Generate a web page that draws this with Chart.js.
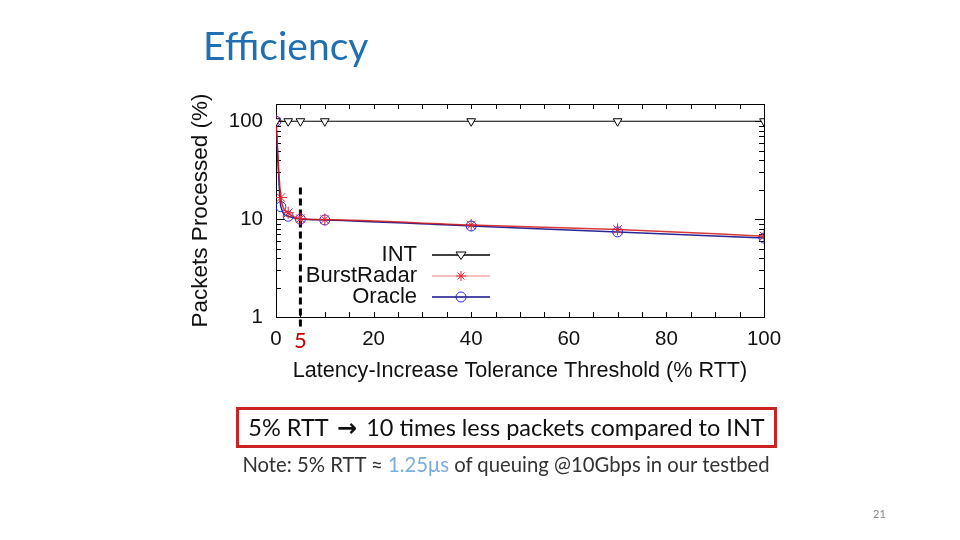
<!DOCTYPE html>
<html lang="en">
<head>
  <meta charset="UTF-8" />
  <title>Efficiency</title>
  <script src="https://cdn.jsdelivr.net/npm/chart.js"></script>
  <style>
    body { margin: 0; background: #fff; }
    #slide { position: relative; width: 960px; height: 540px; overflow: hidden; }
    #chart { position: absolute; left: 0; top: 0; }
    .txt { position: absolute; font-family: Lato, "Open Sans", sans-serif; white-space: nowrap; }
    #title { left: 203px; top: 22px; font-size: 39px; color: #1f6fb2; }
    #box { left: 236px; top: 407px; width: 535px; height: 35px; border: 3px solid #cc2222;
           font-size: 23.5px; color: #111; text-align: center; line-height: 35px; }
    #box b { font-family: "DejaVu Sans", sans-serif; font-size: 24px; margin: 0 3px; }
    #note { left: 0; width: 1012px; top: 452px; text-align: center; font-size: 20.3px; color: #333; }
    #note span { color: #7aaee0; }
    #page { left: 873px; top: 507px; font-size: 11px; color: #888; }
  </style>
</head>
<body>
<div id="slide">
  <canvas id="chart" width="960" height="540"></canvas>
  <div class="txt" id="title">Efficiency</div>
  <div class="txt" id="box">5% RTT <b>&rarr;</b> 10 times less packets compared to INT</div>
  <div class="txt" id="note">Note: 5% RTT &asymp; <span>1.25&mu;s</span> of queuing @10Gbps in our testbed</div>
  <div class="txt" id="page">21</div>
</div>
<script>
  // values (x = % RTT, y = % packets processed)
  const thresholds = [0, 1, 2.5, 5, 10, 40, 70, 100];
  const intValues = [100, null, 100, 100, 100, 100, 100, 100];
  const burstRadarValues = [100, 16.6, 11.6, 10.1, 9.9, 8.7, 7.85, 6.7];
  const oracleValues = [100, 13.4, 10.7, 10.0, 9.8, 8.5, 7.4, 6.4];

  const xTicks = [0, 20, 40, 60, 80, 100];
  const yTicks = [1, 10, 100];
  const markedThreshold = 5;

  const tickFont = { family: '"Liberation Sans", Arial, sans-serif', size: 20.5 };
  const titleFont = { family: '"Liberation Sans", Arial, sans-serif', size: 21.6 };

  const toPoints = vals => thresholds.map((t, i) => ({ x: t, y: vals[i] }));

  function drawMarker(ctx, style, color, x, y, r) {
    ctx.save();
    ctx.strokeStyle = color;
    ctx.lineWidth = 1;
    ctx.beginPath();
    if (style === 'triangle') {
      ctx.moveTo(x - r, y - r * 0.6);
      ctx.lineTo(x + r, y - r * 0.6);
      ctx.lineTo(x, y + r * 0.9);
      ctx.closePath();
      ctx.fillStyle = '#fff';
      ctx.fill();
    } else if (style === 'star') {
      ctx.moveTo(x - r, y); ctx.lineTo(x + r, y);
      ctx.moveTo(x, y - r); ctx.lineTo(x, y + r);
      const d = r * 0.7;
      ctx.moveTo(x - d, y - d); ctx.lineTo(x + d, y + d);
      ctx.moveTo(x - d, y + d); ctx.lineTo(x + d, y - d);
    } else {
      ctx.arc(x, y, r, 0, Math.PI * 2);
    }
    ctx.stroke();
    ctx.restore();
  }

  const frameAndNotes = {
    id: 'frameAndNotes',
    beforeDatasetsDraw(chart) {
      const { ctx, chartArea: a, scales: { x, y } } = chart;
      ctx.save();
      ctx.strokeStyle = '#000';
      ctx.lineWidth = 1;
      ctx.strokeRect(a.left + 0.5, a.top + 0.5, a.right - a.left, a.bottom - a.top);
      ctx.beginPath();
      for (let v = 5; v < 100; v += 5) {
        const px = Math.round(x.getPixelForValue(v)) + 0.5;
        ctx.moveTo(px, a.bottom); ctx.lineTo(px, a.bottom - 5);
        ctx.moveTo(px, a.top); ctx.lineTo(px, a.top + 5);
      }
      for (let dec = 1; dec <= 100; dec *= 10) {
        for (let m = 1; m <= 9; m++) {
          const v = dec * m;
          if (v <= 1 || v >= 150) continue;
          const py = Math.round(y.getPixelForValue(v)) + 0.5;
          const len = m === 1 ? 9 : 5;
          ctx.moveTo(a.left, py); ctx.lineTo(a.left + len, py);
          ctx.moveTo(a.right, py); ctx.lineTo(a.right - len, py);
        }
      }
      ctx.stroke();

      // dashed marker at 5% RTT
      const mx = x.getPixelForValue(markedThreshold);
      ctx.setLineDash([7, 4]);
      ctx.lineWidth = 3;
      ctx.beginPath();
      ctx.moveTo(mx, y.getPixelForValue(21));
      ctx.lineTo(mx, a.bottom + 12);
      ctx.stroke();
      ctx.restore();
    },
    afterDraw(chart) {
      const { ctx, chartArea: a, scales: { x } } = chart;
      ctx.save();
      ctx.fillStyle = '#c00000';
      ctx.font = '22px Lato, "Open Sans", sans-serif';
      ctx.textAlign = 'center';
      ctx.textBaseline = 'middle';
      ctx.fillText(String(markedThreshold), x.getPixelForValue(markedThreshold), a.bottom + 24);

      // legend drawn from the dataset styles
      ctx.font = '22px "Liberation Sans", Arial, sans-serif';
      ctx.textAlign = 'right';
      chart.data.datasets.forEach((ds, i) => {
        const ly = 255 + 21 * i;
        ctx.fillStyle = '#111';
        ctx.fillText(ds.label, 417, ly);
        ctx.strokeStyle = ds.legendLine;
        ctx.lineWidth = 1.5;
        ctx.beginPath();
        ctx.moveTo(432, ly); ctx.lineTo(490, ly);
        ctx.stroke();
        drawMarker(ctx, ds.pointStyle, ds.pointBorderColor, 461, ly, 5);
      });
      ctx.restore();
    }
  };

  new Chart(document.getElementById('chart'), {
    type: 'line',
    data: {
      datasets: [
        {
          label: 'INT',
          data: toPoints(intValues),
          spanGaps: true,
          borderColor: '#000',
          borderWidth: 1,
          legendLine: '#000',
          pointStyle: 'triangle',
          pointRotation: 180,
          pointRadius: 5,
          pointBorderWidth: 1,
          pointBorderColor: '#000',
          pointBackgroundColor: '#fff'
        },
        {
          label: 'BurstRadar',
          data: toPoints(burstRadarValues),
          borderColor: 'rgba(208,24,24,0.85)',
          borderWidth: 1.5,
          legendLine: '#f0a8a8',
          cubicInterpolationMode: 'monotone',
          pointStyle: 'star',
          pointRadius: 6,
          pointBorderWidth: 1,
          pointBorderColor: '#e02030',
          pointBackgroundColor: 'rgba(0,0,0,0)'
        },
        {
          label: 'Oracle',
          data: toPoints(oracleValues),
          borderColor: 'rgba(16,16,138,0.9)',
          borderWidth: 1.5,
          legendLine: '#10108a',
          cubicInterpolationMode: 'monotone',
          pointStyle: 'circle',
          pointRadius: 5,
          pointBorderWidth: 1,
          pointBorderColor: '#2a2ad8',
          pointBackgroundColor: 'rgba(0,0,0,0)'
        }
      ]
    },
    options: {
      responsive: false,
      animation: false,
      layout: { padding: { left: 180, top: 104, right: 196, bottom: 156 } },
      plugins: { legend: { display: false }, tooltip: { enabled: false } },
      scales: {
        x: {
          type: 'linear',
          min: 0,
          max: 100,
          afterBuildTicks: s => { s.ticks = xTicks.map(v => ({ value: v })); },
          afterFit: s => { s.height = 67; },
          ticks: { font: tickFont, color: '#111', padding: 10 },
          grid: { display: false, drawTicks: false },
          border: { display: false },
          title: { display: true, text: 'Latency-Increase Tolerance Threshold (% RTT)', font: titleFont, color: '#111', padding: { top: 0, bottom: 0 } }
        },
        y: {
          type: 'logarithmic',
          min: 1,
          max: 150,
          afterBuildTicks: s => { s.ticks = yTicks.map(v => ({ value: v })); },
          afterFit: s => { s.width = 96; },
          ticks: { font: tickFont, color: '#111', padding: 13, callback: v => String(v) },
          grid: { display: false, drawTicks: false },
          border: { display: false },
          title: { display: true, text: 'Packets Processed (%)', font: { family: titleFont.family, size: 22.5 }, color: '#111', padding: { top: 7 } }
        }
      }
    },
    plugins: [frameAndNotes]
  });
</script>
</body>
</html>
